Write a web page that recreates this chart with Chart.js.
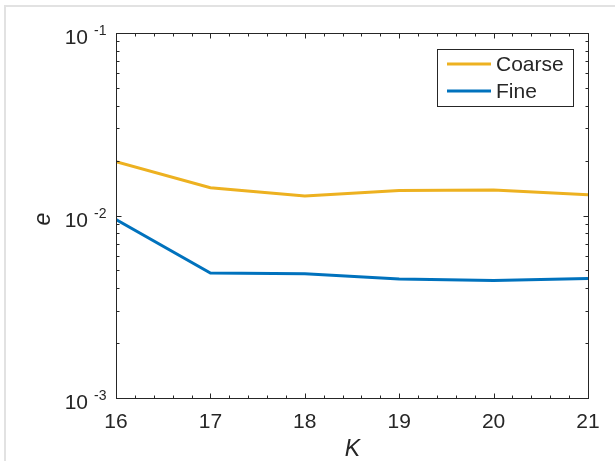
<!DOCTYPE html>
<html>
<head>
<meta charset="utf-8">
<script src="https://cdn.jsdelivr.net/npm/chart.js@4"></script>
<style>
  html, body { margin: 0; padding: 0; background: #fff; }
  #wrap { width: 615px; height: 461px; position: relative; }
</style>
</head>
<body>
<div id="wrap"><canvas id="errChart" width="615" height="461"></canvas></div>
<script>
// error e against K for the two grids
const kValues = [16, 17, 18, 19, 20, 21];
const coarseErr = [0.0197, 0.0142, 0.0128, 0.0137, 0.0138, 0.0130];
const fineErr = [0.0095, 0.00484, 0.0048, 0.00449, 0.0044, 0.00452];
const seriesNames = ['Coarse', 'Fine'];
const seriesColors = ['#EDB120', '#0072BD'];
const xTicks = [16, 17, 18, 19, 20, 21];
const yDecades = [-3, -2, -1];

const FONT = '"Liberation Sans", Arial, Helvetica, sans-serif';
const AXIS_COLOR = '#262626';

// MATLAB-style axes: box, inward ticks, superscript tick labels, legend
const matlabAxes = {
    id: 'matlabAxes',
    beforeDraw(chart) {
        const ctx = chart.ctx;
        ctx.save();
        ctx.fillStyle = '#fff';
        ctx.fillRect(0, 0, chart.width, chart.height);
        // light frame along the top and left edges
        ctx.strokeStyle = '#e2e2e2';
        ctx.lineWidth = 2;
        ctx.beginPath();
        ctx.moveTo(5, chart.height);
        ctx.lineTo(5, 6);
        ctx.lineTo(chart.width, 6);
        ctx.stroke();
        ctx.restore();
    },
    afterDraw(chart) {
        const ctx = chart.ctx;
        const xs = chart.scales.x;
        const ys = chart.scales.y;
        const a = chart.chartArea;
        const L = Math.round(a.left) + 0.5, R = Math.round(a.right) + 0.5;
        const T = Math.round(a.top) + 0.5, B = Math.round(a.bottom) + 0.5;

        ctx.save();
        ctx.strokeStyle = AXIS_COLOR;
        ctx.lineWidth = 1;
        ctx.strokeRect(L, T, R - L, B - T);

        ctx.beginPath();
        // x ticks, top and bottom
        for (let v = xs.min; v <= xs.max + 1e-9; v += 0.2) {
            const major = Math.abs(v - Math.round(v)) < 1e-6;
            const len = major ? 5 : 3;
            const px = Math.round(xs.getPixelForValue(v)) + 0.5;
            ctx.moveTo(px, B); ctx.lineTo(px, B - len);
            ctx.moveTo(px, T); ctx.lineTo(px, T + len);
        }
        // log y ticks, left and right
        for (let d = yDecades[0]; d <= yDecades[yDecades.length - 1]; d++) {
            for (let m = 1; m <= 9; m++) {
                const v = m * Math.pow(10, d);
                if (v > ys.max * 1.0001) break;
                const len = m === 1 ? 5 : 3;
                const py = Math.round(ys.getPixelForValue(v)) + 0.5;
                ctx.moveTo(L, py); ctx.lineTo(L + len, py);
                ctx.moveTo(R, py); ctx.lineTo(R - len, py);
            }
        }
        ctx.stroke();

        // tick labels
        ctx.fillStyle = AXIS_COLOR;
        ctx.font = '21px ' + FONT;
        ctx.textAlign = 'center';
        ctx.textBaseline = 'alphabetic';
        xTicks.forEach(t => {
            ctx.fillText(String(t), xs.getPixelForValue(t), B + 29);
        });
        yDecades.forEach(d => {
            const py = ys.getPixelForValue(Math.pow(10, d));
            const sup = String(d);
            ctx.font = '14px ' + FONT;
            const supW = ctx.measureText(sup).width;
            const right = L - 10;
            ctx.textAlign = 'right';
            ctx.fillText(sup, right, py + 2);
            ctx.font = '21px ' + FONT;
            ctx.fillText('10', right - supW - 6, py + 11);
        });

        // axis titles
        ctx.font = 'italic 23px ' + FONT;
        ctx.textAlign = 'center';
        ctx.fillText('K', (L + R) / 2, B + 57);
        ctx.save();
        ctx.translate(44, (T + B) / 2 + 3);
        ctx.rotate(-Math.PI / 2);
        ctx.textBaseline = 'middle';
        ctx.fillText('e', 0, 0);
        ctx.restore();

        // legend
        const lx = 437.5, ly = 49.5, lw = 136, lh = 57;
        ctx.fillStyle = '#fff';
        ctx.fillRect(lx, ly, lw, lh);
        ctx.strokeStyle = AXIS_COLOR;
        ctx.lineWidth = 1;
        ctx.strokeRect(lx, ly, lw, lh);
        ctx.font = '21px ' + FONT;
        ctx.textAlign = 'left';
        ctx.textBaseline = 'middle';
        chart.data.datasets.forEach((ds, i) => {
            const yy = 64 + i * 27;
            ctx.strokeStyle = ds.borderColor;
            ctx.lineWidth = 3;
            ctx.beginPath();
            ctx.moveTo(447, yy); ctx.lineTo(491, yy);
            ctx.stroke();
            ctx.fillStyle = AXIS_COLOR;
            ctx.fillText(ds.label, 496, yy + 1);
        });
        ctx.restore();
    }
};

const ctx = document.getElementById('errChart').getContext('2d');
const errChart = new Chart(ctx, {
    type: 'line',
    data: {
        datasets: [coarseErr, fineErr].map((vals, i) => ({
            label: seriesNames[i],
            data: kValues.map((k, j) => ({ x: k, y: vals[j] })),
            borderColor: seriesColors[i],
            backgroundColor: seriesColors[i],
            borderWidth: 3,
            pointRadius: 0,
            tension: 0,
            fill: false
        }))
    },
    options: {
        responsive: false,
        animation: false,
        devicePixelRatio: 1,
        layout: { padding: { left: 116, top: 33, right: 27, bottom: 63 } },
        plugins: { legend: { display: false }, tooltip: { enabled: false } },
        scales: {
            x: { type: 'linear', min: 16, max: 21, display: false },
            y: { type: 'logarithmic', min: 0.001, max: 0.1, display: false }
        }
    },
    plugins: [matlabAxes]
});
</script>
</body>
</html>
